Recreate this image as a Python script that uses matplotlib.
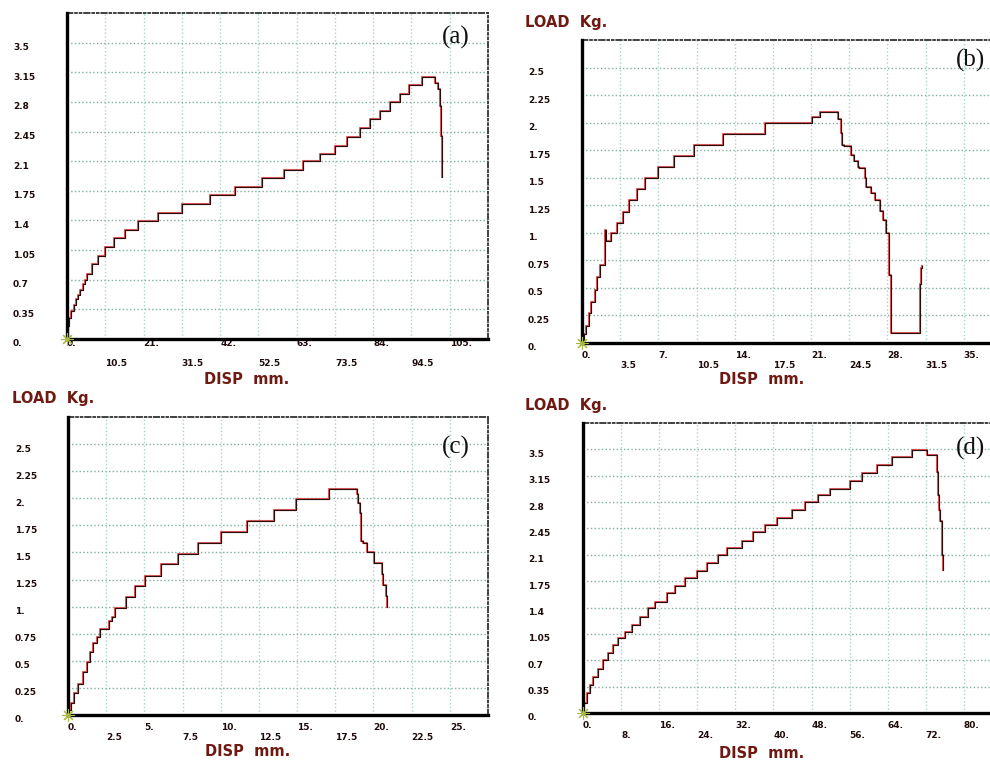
import matplotlib
matplotlib.use("Agg")
import matplotlib.pyplot as plt
from matplotlib import transforms

W, H = 990, 760

# (a) load vs displacement, step points (jump position, new load level)
disp_a = [0, 0.3, 0.6, 1.2, 1.8, 2.5, 3.0, 3.7, 4.3, 5.0,
          5.5, 6.85, 8.5, 10.5, 12.8, 16.0, 19.6, 25.1, 31.5, 39.3,
          46.0, 53.4, 59.5, 64.8, 69.4, 73.5, 76.8, 80.3, 83.1, 86.0,
          88.7, 91.3, 93.8, 97.5, 100.9, 101.8, 102.4, 102.7, 102.9, 103.0]
load_a = [0.02, 0.15, 0.25, 0.33, 0.40, 0.47, 0.52, 0.58, 0.65, 0.70,
          0.77, 0.89, 0.98, 1.09, 1.19, 1.29, 1.39, 1.49, 1.59, 1.70,
          1.79, 1.90, 2.0, 2.10, 2.19, 2.285, 2.39, 2.49, 2.60, 2.69,
          2.795, 2.89, 3.0, 3.10, 3.02, 2.95, 2.75, 2.4, 2.1, 1.91]

# (b)
disp_b = [0, 0.18, 0.4, 0.61, 0.86, 1.16, 1.41, 1.62, 2.08, 2.2, 2.69,
          3.24, 3.76, 4.28, 5.07, 5.8, 6.97, 8.43, 10.27, 12.9, 16.8,
          21.05, 21.8, 23.5, 23.7, 23.8, 24.0, 24.7, 24.9, 25.3, 25.4,
          25.9, 26.0, 26.5, 26.9, 27.3, 27.6, 27.9, 28.1, 28.3, 31.0,
          31.1, 31.2]
load_b = [0.03, 0.08, 0.15, 0.27, 0.37, 0.48, 0.60, 0.71, 1.03, 0.93, 1.0,
          1.09, 1.19, 1.30, 1.40, 1.50, 1.60, 1.70, 1.80, 1.90, 2.0,
          2.05, 2.10, 2.03, 1.91, 1.80, 1.79, 1.71, 1.65, 1.60, 1.59,
          1.50, 1.42, 1.36, 1.30, 1.20, 1.12, 1.0, 0.62, 0.09, 0.54,
          0.68, 0.70]

# (c)
disp_c = [0, 0.22, 0.4, 0.66, 1.0, 1.22, 1.44, 1.66, 1.88, 2.1,
          2.69, 2.86, 3.08, 3.78, 4.39, 5.04, 6.09, 7.2, 8.49, 10.02,
          11.7, 13.5, 14.9, 17.1, 18.9, 19.0, 19.1, 19.2, 19.3, 19.56,
          20.06, 20.55, 20.65, 20.8, 20.9]
load_c = [0.05, 0.11, 0.20, 0.29, 0.40, 0.49, 0.58, 0.66, 0.72, 0.79,
          0.87, 0.90, 0.99, 1.09, 1.19, 1.28, 1.39, 1.49, 1.59, 1.69,
          1.79, 1.89, 1.99, 2.09, 2.04, 1.96, 1.86, 1.61, 1.59, 1.50,
          1.40, 1.30, 1.20, 1.10, 1.0]

# (d)
disp_d = [0, 0.07, 0.77, 1.47, 2.17, 3.22, 4.27, 5.3, 6.4, 7.4,
          8.8, 10.2, 12.0, 13.7, 15.1, 17.6, 19.3, 21.4, 23.9, 26.0,
          28.4, 30.2, 33.3, 35.8, 38.2, 40.7, 43.8, 46.6, 49.4, 51.9,
          56.1, 58.5, 61.7, 64.8, 69.0, 72.2,
          74.3, 74.5, 74.7, 75.0, 75.3, 75.5, 75.6]
load_d = [0.03, 0.13, 0.26, 0.37, 0.48, 0.59, 0.70, 0.79, 0.90, 0.99,
          1.08, 1.17, 1.28, 1.39, 1.48, 1.59, 1.68, 1.79, 1.89, 1.99,
          2.10, 2.19, 2.29, 2.40, 2.50, 2.59, 2.69, 2.80, 2.89, 2.98,
          3.08, 3.18, 3.29, 3.40, 3.49, 3.42,
          3.20, 2.90, 2.70, 2.55, 2.40, 2.10, 1.90]

# tick labels as printed by the testing machine
xlab_a = ["0.", "10.5", "21.", "31.5", "42.", "52.5", "63.", "73.5", "84.", "94.5", "105."]
xlab_b = ["0.", "3.5", "7.", "10.5", "14.", "17.5", "21.", "24.5", "28.", "31.5", "35."]
xlab_c = ["0.", "2.5", "5.", "7.5", "10.", "12.5", "15.", "17.5", "20.", "22.5", "25."]
xlab_d = ["0.", "8.", "16.", "24.", "32.", "40.", "48.", "56.", "64.", "72.", "80."]
ylab_ad = ["0.", "0.35", "0.7", "1.05", "1.4", "1.75", "2.1", "2.45", "2.8", "3.15", "3.5"]
ylab_bc = ["0.", "0.25", "0.5", "0.75", "1.", "1.25", "1.5", "1.75", "2.", "2.25", "2.5"]

LABEL_RED = "#6e1a12"
TICK_COL = "#1e0c0a"

fig = plt.figure(figsize=(W / 100, H / 100), dpi=100)


def box(left, top, right, bottom):
    return [left / W, 1 - bottom / H, (right - left) / W, (bottom - top) / H]


def panel(rect, xs, ys, xlab, ylab, tag, tag_xy, ylab_x, row_off, disp_xy, load_xy=None):
    ax = fig.add_axes(box(*rect))
    xt = [float(s) for s in xlab]
    yt = [float(s) for s in ylab]
    ax.set_xlim(0, xt[-1] + xt[1] - xt[0])
    ax.set_ylim(0, yt[-1] + yt[1] - yt[0])
    ax.set_xticks(xt[1:])
    ax.set_yticks(yt[1:])
    ax.tick_params(length=0, labelbottom=False, labelleft=False)
    ax.grid(axis="x", linestyle=":", color="#a6d6c6", lw=1.0)
    ax.grid(axis="y", linestyle=":", color="#7faf9f", lw=1.0)

    for s in ["left", "bottom"]:
        ax.spines[s].set_linewidth(2.4)
        ax.spines[s].set_color("black")
        ax.spines[s].set_zorder(6)
    for s in ["top", "right"]:
        ax.spines[s].set_linewidth(1.3)
        ax.spines[s].set_color("#333333")
        ax.spines[s].set_linestyle((0, (3, 1.5, 1, 1.5, 1, 1.5)))

    # the curve: red halo with a dark core
    ax.plot(xs, ys, drawstyle="steps-post", color="#d85a5a", lw=1.5, zorder=3)
    ax.plot(xs, ys, drawstyle="steps-post", color="#2a0c0c", lw=0.8, zorder=4)
    ax.plot(0, 0, marker=(8, 2, 0), ms=9, color="#a8b840", mew=0.8, clip_on=False, zorder=7)

    # x tick labels in two staggered rows
    for i, (t, s) in enumerate(zip(xt, xlab)):
        off = row_off[i % 2]
        tr = transforms.offset_copy(ax.get_xaxis_transform(), fig=fig, x=0, y=-off, units="dots")
        ax.text(t, 0, s, transform=tr, ha="left", va="center", fontsize=6.5,
                fontweight="bold", color=TICK_COL)

    # y tick labels at the far left
    base = transforms.blended_transform_factory(fig.transFigure, ax.transData)
    tr = transforms.offset_copy(base, fig=fig, x=0, y=-5, units="dots")
    for t, s in zip(yt, ylab):
        ax.text(ylab_x / W, t, s, transform=tr, ha="left", va="center", fontsize=6.5,
                fontweight="bold", color=TICK_COL)

    fig.text(disp_xy[0] / W, 1 - disp_xy[1] / H, "DISP  mm.", ha="center", va="center",
             fontsize=10.5, fontweight="heavy", color=LABEL_RED)
    if load_xy is not None:
        fig.text(load_xy[0] / W, 1 - load_xy[1] / H, "LOAD  Kg.", ha="left", va="center",
                 fontsize=10.5, fontweight="heavy", color=LABEL_RED)
    fig.text(tag_xy[0] / W, 1 - tag_xy[1] / H, tag, ha="left", va="center",
             fontsize=18, family="Liberation Serif", color="#111111")
    return ax


panel((67, 13, 488, 339), disp_a, load_a, xlab_a, ylab_ad, "(a)", (442, 37), 13,
      (5, 24), (247, 380))
panel((582, 40, 1002, 343), disp_b, load_b, xlab_b, ylab_bc, "(b)", (956, 60), 528,
      (12, 23), (762, 380), (525, 22))
panel((68, 417, 488, 715), disp_c, load_c, xlab_c, ylab_bc, "(c)", (442, 447), 15,
      (12, 23), (248, 752), (12, 398))
panel((583, 423, 1002, 713), disp_d, load_d, xlab_d, ylab_ad, "(d)", (956, 448), 528,
      (12, 23), (762, 753), (525, 405))

fig.savefig("out.png", dpi=100)
